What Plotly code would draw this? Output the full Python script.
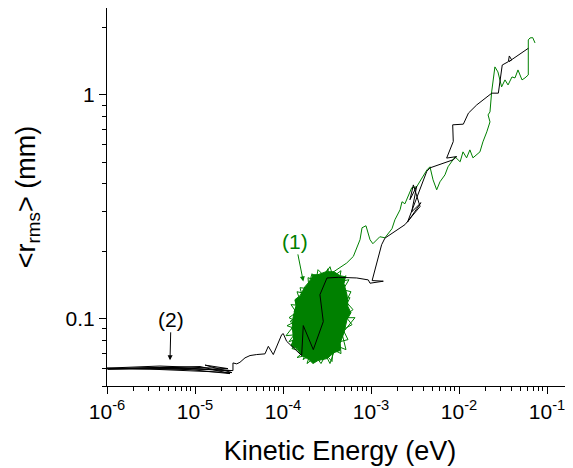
import plotly.graph_objects as go

# ---- black trace: (2) ----
black_E = [1.0e-6, 5.20e-6, 2.57e-5, 5.20e-6, 1.026e-6, 1.14e-5, 2.50e-5, 8.77e-6,
           1.0e-6, 4.00e-6, 2.37e-5, 1.30e-5, 2.63e-5, 3.08e-6, 1.0e-6, 6.75e-6,
           2.70e-5, 2.70e-5, 2.98e-5, 3.24e-5, 3.70e-5, 4.22e-5, 5.02e-5, 6.24e-5,
           6.81e-5, 7.76e-5, 9.66e-5, 1.007e-4, 1.10e-4, 1.63e-4, 1.70e-4, 2.21e-4,
           2.87e-4, 2.63e-4, 3.16e-4, 4.25e-4, 6.88e-4, 9.31e-4, 9.75e-4, 1.38e-3,
           1.03e-3, 1.32e-3, 1.44e-3, 2.43e-3, 3.61e-3, 3.03e-3, 2.77e-3, 3.30e-3,
           2.90e-3, 3.70e-3, 2.60e-3, 4.30e-3, 4.68e-3, 8.61e-3, 9.42e-3, 7.24e-3,
           8.61e-3, 8.48e-3, 1.12e-2, 1.28e-2, 1.59e-2, 2.36e-2, 2.80e-2, 3.10e-2,
           3.64e-2, 3.73e-2, 3.97e-2, 3.70e-2, 6.14e-2]
black_r = [0.0598, 0.0607, 0.0586, 0.0604, 0.0595, 0.0611, 0.0568, 0.0592,
           0.0601, 0.0614, 0.0598, 0.0620, 0.0574, 0.0595, 0.0597, 0.0599,
           0.0586, 0.0634, 0.0628, 0.0638, 0.0668, 0.0684, 0.0691, 0.0696,
           0.0752, 0.0691, 0.0848, 0.0857, 0.0792, 0.0684, 0.0931, 0.0727,
           0.0970, 0.128, 0.152, 0.153, 0.152, 0.149, 0.144, 0.147,
           0.148, 0.214, 0.229, 0.263, 0.317, 0.396, 0.340, 0.390,
           0.300, 0.330, 0.270, 0.455, 0.472, 0.513, 0.530, 0.522,
           0.619, 0.735, 0.740, 0.829, 0.902, 1.018, 1.018, 1.360,
           1.408, 1.493, 1.433, 1.410, 1.616]

# ---- green trace: (1) — scribble in the cloud, then the climb ----
green_E = [2.633e-4, 1.561e-4, 1.334e-4, 1.688e-4, 1.110e-4, 1.481e-4, 1.170e-4, 1.602e-4,
           1.266e-4, 1.732e-4, 1.443e-4, 2.027e-4, 1.874e-4, 2.371e-4, 2.703e-4, 3.080e-4,
           3.604e-4, 3.700e-4, 4.562e-4, 4.443e-4, 5.477e-4, 4.807e-4, 6.083e-4, 5.064e-4,
           6.245e-4, 5.198e-4, 5.925e-4, 4.807e-4, 5.623e-4, 4.329e-4, 4.562e-4, 3.700e-4,
           3.420e-4, 2.922e-4, 2.498e-4, 2.371e-4, 1.924e-4, 1.974e-4, 1.561e-4, 1.688e-4,
           1.369e-4, 1.561e-4, 1.170e-4, 1.443e-4, 1.082e-4, 1.405e-4, 1.233e-4, 1.561e-4,
           1.520e-4,
           2.498e-4, 1.201e-4, 1.826e-4, 1.334e-4, 2.136e-4, 1.688e-4, 2.774e-4, 3.420e-4,
           4.002e-4, 5.198e-4, 4.683e-4, 6.578e-4, 4.443e-4, 5.772e-4, 4.217e-4, 5.198e-4,
           3.420e-4, 3.245e-4, 2.498e-4, 2.136e-4, 1.826e-4, 1.443e-4, 1.644e-4, 1.233e-4,
           1.561e-4,
           2.633e-4, 2.498e-4,
           3.14e-4, 4.07e-4, 5.30e-4, 6.30e-4, 7.50e-4, 7.91e-4, 8.77e-4, 9.75e-4,
           1.05e-3, 1.26e-3, 1.44e-3, 1.73e-3, 1.87e-3, 2.14e-3, 2.25e-3, 2.43e-3,
           2.90e-3, 3.30e-3, 3.90e-3, 4.33e-3, 4.68e-3, 5.07e-3, 5.58e-3, 6.08e-3,
           6.93e-3, 7.50e-3, 9.02e-3, 1.03e-2, 1.11e-2, 1.22e-2, 1.33e-2, 1.44e-2,
           1.73e-2, 1.87e-2, 2.07e-2, 2.25e-2, 2.14e-2, 2.25e-2, 2.35e-2, 2.56e-2,
           2.77e-2, 3.05e-2, 3.33e-2, 3.61e-2, 4.00e-2, 4.33e-2, 4.68e-2, 5.20e-2,
           5.62e-2, 6.13e-2, 6.13e-2, 6.13e-2, 6.41e-2, 6.88e-2, 7.31e-2]
green_r = [0.0990, 0.1216, 0.1075, 0.1010, 0.0930, 0.0893, 0.0789, 0.0823,
           0.0735, 0.0712, 0.0670, 0.0691, 0.0630, 0.0677, 0.0630, 0.0691,
           0.0643, 0.0727, 0.0698, 0.0789, 0.0806, 0.0893, 0.0940, 0.1031,
           0.1097, 0.1191, 0.1319, 0.1347, 0.1493, 0.1463, 0.1638, 0.1540,
           0.1707, 0.1556, 0.1655, 0.1477, 0.1524, 0.1361, 0.1375, 0.1228,
           0.1203, 0.1097, 0.1010, 0.0970, 0.0839, 0.0848, 0.0758, 0.0774,
           0.0705,
           0.1216, 0.0970, 0.0930, 0.0774, 0.0806, 0.0656, 0.0742, 0.0630,
           0.0758, 0.0727, 0.0857, 0.1010, 0.1010, 0.1241, 0.1216, 0.1556,
           0.1347, 0.1672, 0.1404, 0.1588, 0.1293, 0.1319, 0.1143, 0.1155,
           0.1010,
           0.0893, 0.1216,
           0.1545, 0.1655, 0.1773, 0.1897, 0.2253, 0.2548, 0.2601, 0.2253,
           0.2162, 0.2323, 0.2299, 0.2522, 0.2767, 0.3066, 0.3330, 0.3262,
           0.3845, 0.3884, 0.4305, 0.4626, 0.4771, 0.4174, 0.3766, 0.4089,
           0.4393, 0.4771, 0.5286, 0.5023, 0.5564, 0.5232, 0.5679, 0.5232,
           0.5564, 0.6168, 0.6837, 0.7575, 0.814, 0.8396, 1.031, 1.334,
           1.267, 1.086, 1.167, 1.108, 1.203, 1.191, 1.293, 1.167,
           1.191, 1.228, 1.621, 1.761, 1.797, 1.803, 1.707]

# dense core of the green cloud (outline)
core_E = [1.266e-4, 1.299e-4, 1.405e-4, 1.369e-4, 1.561e-4, 1.778e-4, 2.080e-4, 2.193e-4,
          2.498e-4, 3.080e-4, 3.798e-4, 4.443e-4, 5.064e-4, 4.934e-4, 5.336e-4, 5.477e-4,
          5.925e-4, 5.336e-4, 4.934e-4, 4.443e-4, 4.443e-4, 3.798e-4, 3.162e-4, 2.498e-4,
          2.193e-4, 1.974e-4, 1.644e-4, 1.443e-4, 1.266e-4, 1.299e-4]
core_r = [0.0893, 0.1010, 0.1143, 0.1216, 0.1267, 0.1390, 0.1493, 0.1572,
          0.1572, 0.1621, 0.1621, 0.1556, 0.1540, 0.1433, 0.1279, 0.1131,
          0.1063, 0.0990, 0.0866, 0.0774, 0.0720, 0.0705, 0.0663, 0.0650,
          0.0630, 0.0656, 0.0684, 0.0735, 0.0750, 0.0806]

x_tickvals = [1e-6, 1e-5, 1e-4, 1e-3, 1e-2, 1e-1]
x_ticktext = ["10<sup>-6</sup>", "10<sup>-5</sup>", "10<sup>-4</sup>",
              "10<sup>-3</sup>", "10<sup>-2</sup>", "10<sup>-1</sup>"]
y_tickvals = [0.1, 1]
y_ticktext = ["0.1", "1"]

GREEN = "#008000"
FONT = "Liberation Sans, Arial, sans-serif"

fig = go.Figure()
fig.add_trace(go.Scatter(x=core_E, y=core_r, mode="lines", fill="toself",
                         fillcolor=GREEN, line=dict(color=GREEN, width=1),
                         hoverinfo="skip"))
fig.add_trace(go.Scatter(x=green_E, y=green_r, mode="lines",
                         line=dict(color=GREEN, width=1)))
fig.add_trace(go.Scatter(x=black_E, y=black_r, mode="lines",
                         line=dict(color="black", width=1)))

fig.add_annotation(x=-3.7693, y=-0.8335, xref="x", yref="y", text="(1)",
                   showarrow=True, ax=-8, ay=-40, arrowhead=2, arrowsize=1,
                   arrowwidth=1, arrowcolor=GREEN,
                   font=dict(family=FONT, size=21, color=GREEN))
fig.add_annotation(x=-5.284, y=-1.1862, xref="x", yref="y", text="(2)",
                   showarrow=True, ax=1, ay=-41, arrowhead=2, arrowsize=1,
                   arrowwidth=1, arrowcolor="black",
                   font=dict(family=FONT, size=21, color="black"))

# the page body adds an 8 px offset, so the figure is drawn 8 px smaller
fig.update_layout(
    width=565, height=460,
    margin=dict(l=99, r=0, t=0, b=82, autoexpand=False),
    paper_bgcolor="white", plot_bgcolor="white",
    showlegend=False,
    font=dict(family=FONT, color="black"),
)
fig.update_xaxes(type="log", range=[-6, -0.7045], automargin=False,
                 tickmode="array", tickvals=x_tickvals, ticktext=x_ticktext,
                 ticks="outside", ticklen=7, tickwidth=1, tickcolor="black",
                 showline=True, linecolor="black", linewidth=1,
                 showgrid=False, zeroline=False,
                 minor=dict(ticks="outside", ticklen=4, tickcolor="black",
                            dtick="D1", showgrid=False),
                 tickfont=dict(family=FONT, size=21),
                 title=dict(text="Kinetic Energy (eV)", standoff=18,
                            font=dict(family=FONT, size=27)))
fig.update_yaxes(type="log", range=[-1.30103, 0.3884], automargin=False,
                 tickmode="array", tickvals=y_tickvals, ticktext=y_ticktext,
                 ticks="outside", ticklen=7, tickwidth=1, tickcolor="black",
                 showline=True, linecolor="black", linewidth=1,
                 showgrid=False, zeroline=False,
                 minor=dict(ticks="outside", ticklen=4, tickcolor="black",
                            dtick="D1", showgrid=False),
                 tickfont=dict(family=FONT, size=21),
                 title=dict(text="<r<sub>rms</sub>> (mm)", standoff=22,
                            font=dict(family=FONT, size=27)))

fig.write_html("out.html")
